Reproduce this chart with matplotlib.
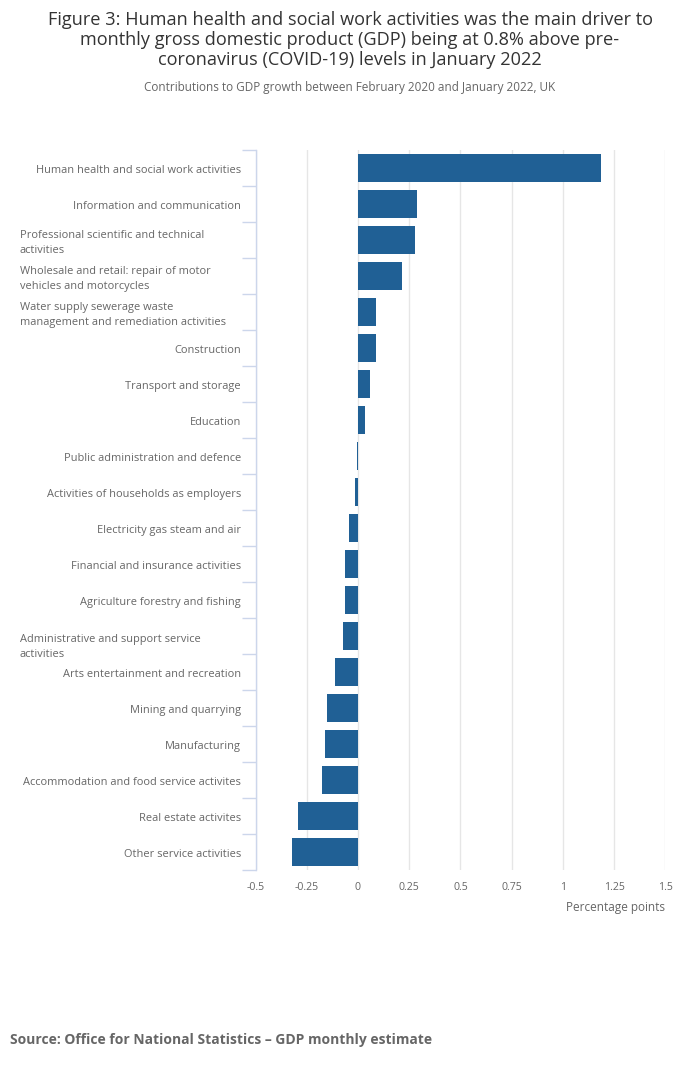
import matplotlib
matplotlib.use("Agg")
import matplotlib.pyplot as plt
import matplotlib.transforms as mtransforms

categories = [
    "Human health and social work activities",
    "Information and communication",
    "Professional scientific and technical\nactivities",
    "Wholesale and retail: repair of motor\nvehicles and motorcycles",
    "Water supply sewerage waste\nmanagement and remediation activities",
    "Construction",
    "Transport and storage",
    "Education",
    "Public administration and defence",
    "Activities of households as employers",
    "Electricity gas steam and air",
    "Financial and insurance activities",
    "Agriculture forestry and fishing",
    "Administrative and support service\nactivities",
    "Arts entertainment and recreation",
    "Mining and quarrying",
    "Manufacturing",
    "Accommodation and food service activites",
    "Real estate activites",
    "Other service activities",
]
values = [1.185, 0.288, 0.278, 0.215, 0.088, 0.088, 0.059, 0.034, -0.005, -0.013,
          -0.044, -0.063, -0.063, -0.073, -0.112, -0.151, -0.161, -0.176, -0.293, -0.322]
xticks = [-0.5, -0.25, 0, 0.25, 0.5, 0.75, 1, 1.25, 1.5]
xticklabels = ["-0.5", "-0.25", "0", "0.25", "0.5", "0.75", "1", "1.25", "1.5"]

title = ("Figure 3: Human health and social work activities was the main driver to\n"
         "monthly gross domestic product (GDP) being at 0.8% above pre-\n"
         "coronavirus (COVID-19) levels in January 2022")
subtitle = "Contributions to GDP growth between February 2020 and January 2022, UK"
source = "Source: Office for National Statistics \u2013 GDP monthly estimate"
xlabel = "Percentage points"

plt.rcParams['font.family'] = ['Open Sans', 'DejaVu Sans']

W, H = 700, 1067
DPI = 100
def px(v):
    return v * 72.0 / DPI

fig = plt.figure(figsize=(W / DPI, H / DPI), dpi=DPI)
fig.patch.set_facecolor("white")

left, right, top, bottom = 255.5, 665.3, 150, 870
ax = fig.add_axes([left / W, 1 - bottom / H, (right - left) / W, (bottom - top) / H])

n = len(categories)
ypos = list(range(n))
ax.barh(ypos, values, height=0.78, color="#206095", zorder=3)

ax.set_xlim(-0.5, 1.5)
ax.set_ylim(n - 0.5, -0.5)
ax.set_xticks(xticks)
ax.set_xticklabels(xticklabels)
ax.tick_params(axis="x", length=0, pad=9, labelsize=px(10.5), labelcolor="#666666")
ax.grid(axis="x", color="#e6e6e6", linewidth=1, zorder=0)

for s in ["top", "right", "bottom"]:
    ax.spines[s].set_visible(False)
ax.spines["left"].set_color("#ccd6eb")
ax.spines["left"].set_linewidth(1)
ax.spines["left"].set_zorder(4)

# category boundary ticks
ax.set_yticks([i - 0.5 for i in range(n + 1)])
ax.set_yticklabels([])
ax.tick_params(axis="y", length=10, width=1, color="#ccd6eb")

# category labels
lt = mtransforms.blended_transform_factory(fig.transFigure, ax.transData)
offsets = {13: 0.22}
for i, lab in enumerate(categories):
    y = i + 0.06 + offsets.get(i, 0)
    if "\n" in lab:
        ax.text(20 / W, y + 0.02, lab, transform=lt, ha="left", va="center",
                fontsize=px(11), color="#666666", linespacing=1.45, multialignment="left")
    else:
        ax.text(241 / W, y, lab, transform=lt, ha="right", va="center",
                fontsize=px(11), color="#666666")

fig.text(665 / W, 1 - 908 / H, xlabel, ha="right", va="center", fontsize=px(11.8), color="#666666")

fig.text(0.5, 1 - 40 / H, title, ha="center", va="center", fontsize=px(18.2), color="#333333",
         linespacing=1.17)
fig.text(0.5, 1 - 87 / H, subtitle, ha="center", va="center", fontsize=px(11.8), color="#666666")
fig.text(10 / W, 1 - 1040 / H, source, ha="left", va="center", fontsize=px(13.85), color="#666666",
         fontweight="bold")

fig.savefig("out.png", dpi=DPI, facecolor="white")
